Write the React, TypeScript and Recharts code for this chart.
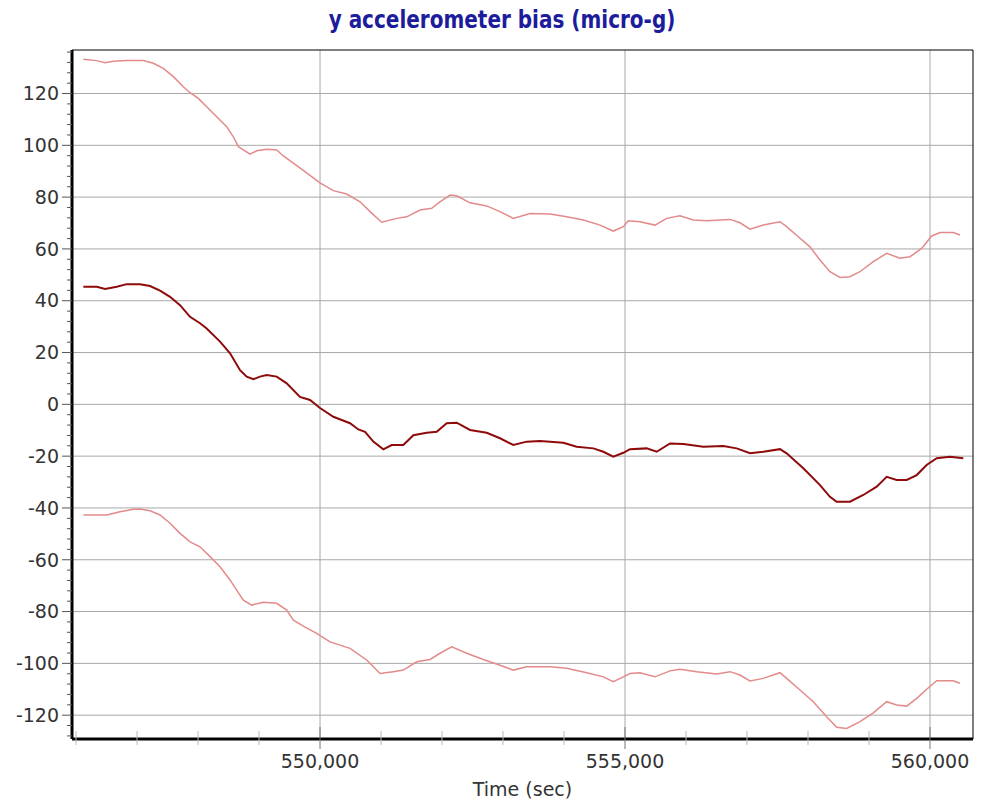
import React from "react";
import {
  LineChart,
  Line,
  XAxis,
  YAxis,
  CartesianGrid,
  ReferenceArea,
} from "recharts";

// sample time (sec) and bias (micro-g)
const midTime = [
  546120, 546340, 546476, 546668, 546831, 547049, 547213, 547377, 547541, 547705,
  547869, 548033, 548142, 548361, 548525, 548689, 548798, 548907, 549016, 549126,
  549290, 549454, 549672, 549836, 550000, 550219, 550492, 550628, 550738, 550874,
  551038, 551175, 551366, 551530, 551749, 551913, 552077, 552241, 552459, 552733,
  552951, 553169, 553388, 553606, 553989, 554208, 554481, 554645, 554808, 554973,
  555082, 555355, 555519, 555738, 555956, 556284, 556612, 556831, 557049, 557267,
  557541, 557650, 557923, 558197, 558360, 558470, 558688, 558907, 559126, 559290,
  559454, 559618, 559782, 559945, 560110, 560328, 560546,
];
const midBias = [
  45.4, 45.4, 44.5, 45.4, 46.4, 46.4, 45.7, 43.9, 41.5, 38.3,
  33.8, 31.3, 29.3, 24.2, 19.7, 13.2, 10.7, 9.7, 10.7, 11.3,
  10.7, 8.1, 2.9, 1.7, -1.4, -4.8, -7.3, -9.7, -10.6, -14.4,
  -17.4, -15.7, -15.7, -11.9, -11.0, -10.6, -7.3, -7.1, -9.9, -11.0,
  -13.1, -15.7, -14.4, -14.2, -14.8, -16.4, -17.0, -18.3, -20.2, -18.7,
  -17.3, -17.0, -18.3, -15.1, -15.3, -16.4, -16.1, -17.0, -18.9, -18.3,
  -17.3, -18.9, -24.7, -31.2, -35.7, -37.6, -37.6, -35.0, -31.8, -28.0,
  -29.2, -29.2, -27.3, -23.4, -20.8, -20.2, -20.8,
];

const upperTime = [
  546120, 546339, 546476, 546612, 546831, 547103, 547268, 547431, 547596, 547759,
  547869, 548005, 548142, 548306, 548470, 548579, 548661, 548852, 548962, 549126,
  549290, 549399, 549563, 549781, 550000, 550219, 550437, 550656, 550820, 551011,
  551257, 551421, 551639, 551831, 551967, 552131, 552241, 552459, 552733, 552951,
  553169, 553443, 553770, 554044, 554316, 554590, 554808, 554973, 555054, 555246,
  555492, 555683, 555901, 556120, 556339, 556721, 556885, 557049, 557267, 557541,
  557650, 557869, 558033, 558197, 558360, 558524, 558688, 558852, 559070, 559290,
  559508, 559672, 559864, 560027, 560164, 560382, 560492,
];
const upperBias = [
  133.2, 132.7, 131.9, 132.5, 132.7, 132.7, 131.7, 129.7, 126.5, 122.6,
  120.3, 118.1, 114.9, 111.0, 107.2, 103.3, 99.5, 96.6, 97.9, 98.5,
  98.2, 95.9, 93.1, 89.4, 85.5, 82.5, 81.2, 78.2, 74.4, 70.3,
  71.8, 72.4, 75.0, 75.7, 78.2, 80.8, 80.5, 77.8, 76.6, 74.4,
  71.8, 73.7, 73.5, 72.4, 71.2, 69.2, 66.9, 68.6, 70.9, 70.5,
  69.2, 71.8, 72.8, 71.2, 70.9, 71.4, 70.1, 67.6, 69.2, 70.5,
  68.6, 64.1, 60.8, 55.7, 51.2, 49.0, 49.3, 51.2, 55.1, 58.3,
  56.4, 57.0, 60.2, 65.0, 66.3, 66.3, 65.4,
];

const lowerTime = [
  546120, 546503, 546721, 546940, 547049, 547213, 547377, 547541, 547705, 547869,
  548033, 548197, 548361, 548525, 548634, 548743, 548880, 549071, 549290, 549454,
  549563, 549727, 549945, 550164, 550492, 550765, 550984, 551202, 551366, 551585,
  551803, 551967, 552159, 552405, 552677, 552951, 553169, 553388, 553770, 554044,
  554372, 554645, 554808, 554973, 555082, 555246, 555492, 555738, 555901, 556175,
  556503, 556721, 556885, 557049, 557267, 557541, 557650, 557869, 558087, 558306,
  558470, 558634, 558852, 559070, 559290, 559454, 559618, 559782, 559945, 560110,
  560382, 560492,
];
const lowerBias = [
  -42.7, -42.7, -41.5, -40.5, -40.4, -41.1, -42.7, -45.9, -49.8, -53.1,
  -55.0, -58.8, -62.7, -67.8, -71.7, -75.6, -77.5, -76.4, -76.8, -79.4,
  -83.3, -85.6, -88.4, -91.7, -94.2, -98.7, -103.9, -103.2, -102.6, -99.4,
  -98.5, -96.1, -93.6, -96.1, -98.5, -100.7, -102.6, -101.3, -101.3, -101.9,
  -103.6, -105.2, -107.1, -105.2, -103.9, -103.6, -105.2, -102.9, -102.3, -103.2,
  -104.1, -103.2, -104.5, -106.8, -105.8, -103.6, -105.8, -110.3, -114.8, -120.6,
  -124.7, -125.1, -122.5, -119.1, -114.8, -116.1, -116.5, -113.5, -110.0, -106.7,
  -106.7, -107.7,
];

const xMajorTicks = [550000, 555000, 560000];
const xMinorTicks = [
  546000, 547000, 548000, 549000, 550000, 551000, 552000, 553000,
  554000, 555000, 556000, 557000, 558000, 559000, 560000,
];
const yMajorTicks = [-120, -100, -80, -60, -40, -20, 0, 20, 40, 60, 80, 100, 120];
const yMinorTicks = [
  -128, -124, -120, -116, -112, -108, -104, -100, -96, -92, -88, -84, -80, -76,
  -72, -68, -64, -60, -56, -52, -48, -44, -40, -36, -32, -28, -24, -20, -16, -12,
  -8, -4, 0, 4, 8, 12, 16, 20, 24, 28, 32, 36, 40, 44, 48, 52, 56, 60, 64, 68, 72,
  76, 80, 84, 88, 92, 96, 100, 104, 108, 112, 116, 120, 124, 128, 132, 136,
];

const X_DOMAIN: [number, number] = [545934, 560705];
const Y_DOMAIN: [number, number] = [-129.2, 136.8];

const FONT = "'DejaVu Sans', Verdana, sans-serif";
const TEXT = "#333";

const toSeries = (times: number[], values: number[]) =>
  times.map((t, i) => ({ t, v: values[i] }));

const midData = toSeries(midTime, midBias);
const upperData = toSeries(upperTime, upperBias);
const lowerData = toSeries(lowerTime, lowerBias);

// x tick: small grey ticks every 1000 s, labelled ones every 5000 s
const XTick = (props: any) => {
  const { x, y, payload } = props;
  const major = xMajorTicks.includes(payload.value);
  const axisY = y - 16;
  return (
    <g>
      <line
        x1={x}
        x2={x}
        y1={axisY - (major ? 12 : 8)}
        y2={axisY + (major ? 10 : 6)}
        stroke={major ? "#777" : "#bbb"}
      />
      {major && (
        <text
          x={x}
          y={y}
          dy="0.71em"
          textAnchor="middle"
          fill={TEXT}
          fontSize={19}
          fontFamily={FONT}
        >
          {payload.value.toLocaleString("en-US")}
        </text>
      )}
    </g>
  );
};

const YTick = (props: any) => {
  const { x, y, payload } = props;
  const major = payload.value % 20 === 0;
  const axisX = x + 13;
  return (
    <g>
      <line
        x1={axisX - (major ? 10 : 5)}
        x2={axisX}
        y1={y}
        y2={y}
        stroke="#555"
      />
      {major && (
        <text
          x={x}
          y={y}
          dy="0.355em"
          textAnchor="end"
          fill={TEXT}
          fontSize={19}
          fontFamily={FONT}
        >
          {payload.value}
        </text>
      )}
    </g>
  );
};

export default function App() {
  return (
    <div
      style={{
        position: "absolute",
        left: 0,
        top: 0,
        width: 981,
        height: 805,
        background: "#fff",
        overflow: "hidden",
      }}
    >
      <div
        style={{
          position: "absolute",
          left: 23,
          top: 8,
          width: 958,
          textAlign: "center",
          fontFamily: FONT,
          fontWeight: "bold",
          fontSize: 20,
          lineHeight: "24px",
          color: "#1c1c9c",
          transform: "scaleY(1.2)",
          transformOrigin: "50% 50%",
        }}
      >
        y accelerometer bias (micro-g)
      </div>
      <LineChart
        width={981}
        height={805}
        margin={{ top: 50, right: 8, bottom: 0, left: 0 }}
      >
        <CartesianGrid
          horizontalValues={yMajorTicks}
          verticalValues={xMajorTicks}
          stroke="#a8a8a8"
        />
        <ReferenceArea
          x1={X_DOMAIN[0]}
          x2={X_DOMAIN[1]}
          y1={Y_DOMAIN[0]}
          y2={Y_DOMAIN[1]}
          fill="none"
          stroke="#000"
          strokeWidth={1}
        />
        <XAxis
          type="number"
          dataKey="t"
          domain={X_DOMAIN}
          allowDataOverflow
          ticks={xMinorTicks}
          interval={0}
          height={66}
          tickSize={10}
          tickMargin={6}
          tickLine={false}
          tick={<XTick />}
          axisLine={{ stroke: "#000", strokeWidth: 3 }}
          label={{
            value: "Time (sec)",
            position: "insideBottom",
            offset: 9,
            fill: TEXT,
            fontSize: 19,
            fontFamily: FONT,
          }}
        />
        <YAxis
          type="number"
          domain={Y_DOMAIN}
          allowDataOverflow
          ticks={yMinorTicks}
          interval={0}
          width={72}
          tickSize={10}
          tickMargin={3}
          tickLine={false}
          tick={<YTick />}
          axisLine={{ stroke: "#000", strokeWidth: 3 }}
        />
        <Line
          data={upperData}
          dataKey="v"
          type="linear"
          stroke="#e38a8a"
          strokeWidth={1.5}
          dot={false}
          isAnimationActive={false}
        />
        <Line
          data={lowerData}
          dataKey="v"
          type="linear"
          stroke="#e38a8a"
          strokeWidth={1.5}
          dot={false}
          isAnimationActive={false}
        />
        <Line
          data={midData}
          dataKey="v"
          type="linear"
          stroke="#8f0a0a"
          strokeWidth={2}
          dot={false}
          isAnimationActive={false}
        />
      </LineChart>
    </div>
  );
}
